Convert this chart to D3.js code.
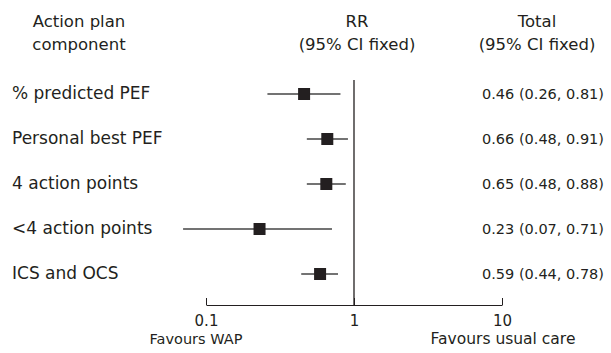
<!DOCTYPE html>
<html>
<head>
<meta charset="utf-8">
<script src="https://cdn.jsdelivr.net/npm/d3@7"></script>
<style>
  body { margin: 0; background: #fff; }
  svg text { font-family: "DejaVu Sans", sans-serif; fill: #231f20; }
</style>
</head>
<body>
<div id="chart"></div>
<script>
// forest plot data
var components = ["% predicted PEF", "Personal best PEF", "4 action points", "<4 action points", "ICS and OCS"];
var rr = [0.46, 0.66, 0.65, 0.23, 0.59];
var lower = [0.26, 0.48, 0.48, 0.07, 0.44];
var upper = [0.81, 0.91, 0.88, 0.71, 0.78];
var tickVals = [0.1, 1, 10];
var tickLabels = ["0.1", "1", "10"];

var width = 611, height = 353;
var axisY = 305;

var svg = d3.select("#chart").append("svg")
  .attr("width", width)
  .attr("height", height);

var x = d3.scaleLog().domain([0.1, 10]).range([206, 502]);
var y = d3.scalePoint().domain(components).range([94, 274]);

var rows = components.map(function(c, i) {
  return {name: c, rr: rr[i], lo: lower[i], hi: upper[i]};
});

// headers
var headers = [
  {x: 79, lines: ["Action plan", "component"]},
  {x: 357, lines: ["RR", "(95% CI fixed)"]},
  {x: 537, lines: ["Total", "(95% CI fixed)"]}
];
headers.forEach(function(h) {
  h.lines.forEach(function(l, j) {
    svg.append("text")
      .attr("x", h.x).attr("y", 27 + j * 23)
      .attr("text-anchor", "middle")
      .style("font-size", "16.5px")
      .text(l);
  });
});

// no-effect line
svg.append("line")
  .attr("x1", x(1)).attr("x2", x(1))
  .attr("y1", 80).attr("y2", axisY)
  .attr("stroke", "#231f20").attr("stroke-width", 1.3);

// row labels
svg.selectAll(".lbl").data(rows).enter().append("text")
  .attr("class", "lbl")
  .attr("x", 12).attr("y", function(d) { return y(d.name) + 5; })
  .style("font-size", "17px")
  .text(function(d) { return d.name; });

// confidence intervals
svg.selectAll(".ci").data(rows).enter().append("line")
  .attr("class", "ci")
  .attr("x1", function(d) { return x(d.lo); })
  .attr("x2", function(d) { return x(d.hi); })
  .attr("y1", function(d) { return y(d.name); })
  .attr("y2", function(d) { return y(d.name); })
  .attr("stroke", "#444").attr("stroke-width", 1.3);

var sq = 12;
svg.selectAll(".pt").data(rows).enter().append("rect")
  .attr("class", "pt")
  .attr("x", function(d) { return x(d.rr) - sq / 2; })
  .attr("y", function(d) { return y(d.name) - sq / 2; })
  .attr("width", sq).attr("height", sq)
  .attr("fill", "#231f20");

// numbers column
svg.selectAll(".val").data(rows).enter().append("text")
  .attr("class", "val")
  .attr("x", 604).attr("y", function(d) { return y(d.name) + 5; })
  .attr("text-anchor", "end")
  .style("font-size", "14.5px")
  .text(function(d) {
    return d3.format(".2f")(d.rr) + " (" + d3.format(".2f")(d.lo) + ", " + d3.format(".2f")(d.hi) + ")";
  });

// axis
var axis = d3.axisBottom(x)
  .tickValues(tickVals)
  .tickFormat(function(d, i) { return tickLabels[i]; })
  .tickSizeInner(-7)
  .tickSizeOuter(0)
  .tickPadding(10);

var gAxis = svg.append("g")
  .attr("transform", "translate(0," + axisY + ")")
  .call(axis);
gAxis.select(".domain").attr("stroke", "#231f20").attr("stroke-width", 1);
gAxis.selectAll(".tick line").attr("stroke", "#231f20");
gAxis.selectAll(".tick text")
  .style("font-size", "15px")
  .attr("fill", "#231f20")
  .style("font-family", '"DejaVu Sans", sans-serif');

svg.append("text")
  .attr("x", 196).attr("y", 344)
  .attr("text-anchor", "middle")
  .style("font-size", "14.5px")
  .text("Favours WAP");
svg.append("text")
  .attr("x", 503).attr("y", 344)
  .attr("text-anchor", "middle")
  .style("font-size", "15.5px")
  .text("Favours usual care");
</script>
</body>
</html>
